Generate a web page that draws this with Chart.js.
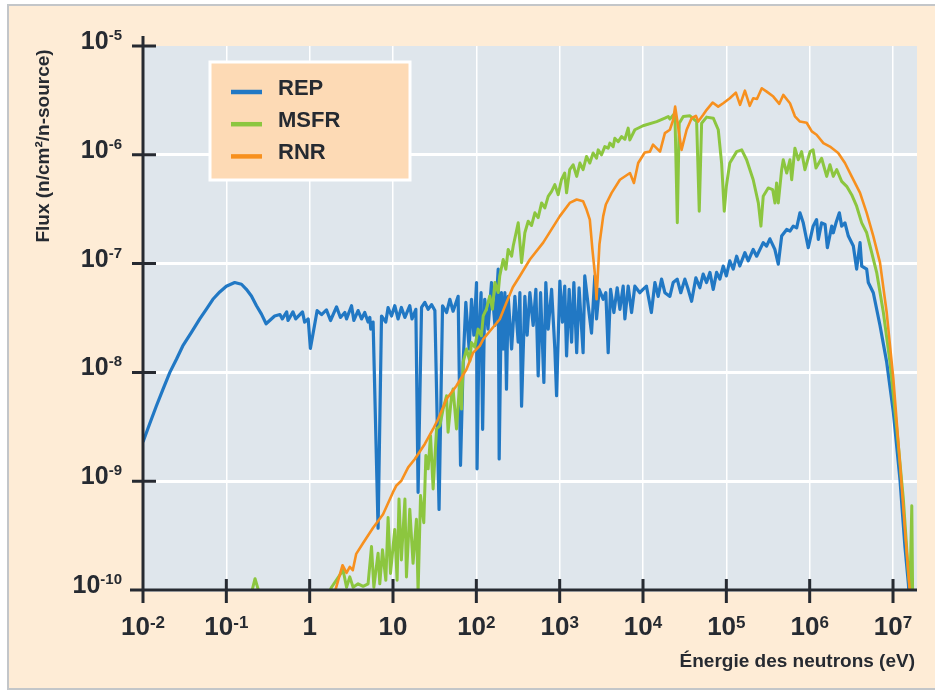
<!DOCTYPE html>
<html>
<head>
<meta charset="utf-8">
<script src="https://cdn.jsdelivr.net/npm/chart.js@4"></script>
<style>
  html, body { margin: 0; padding: 0; background: #ffffff; overflow: hidden; }
  #frame { position: absolute; left: 7px; top: 4px; width: 940px; height: 682px;
           border: 2px solid #c3c6c9; background: #feecd6; }
  #chart { position: absolute; left: 0; top: 0; }
</style>
</head>
<body>
<div id="frame"></div>
<canvas id="chart" width="935" height="690"></canvas>
<script>
// Neutron flux spectra, [energy (eV), flux (n/cm2/n-source)]
const repPoints = [
  [0.01, 2.3e-9], [0.012, 3.36e-9], [0.0145, 4.94e-9], [0.0174, 7.03e-9], [0.021, 1.0e-8],
  [0.0252, 1.32e-8], [0.030, 1.75e-8], [0.0381, 2.33e-8], [0.048, 3.1e-8], [0.0577, 3.81e-8],
  [0.069, 4.7e-8], [0.0834, 5.49e-8], [0.1, 6.2e-8], [0.126, 6.7e-8], [0.152, 6.46e-8],
  [0.174, 5.8e-8], [0.2, 5.04e-8], [0.23, 4.1e-8], [0.264, 3.43e-8], [0.30, 2.8e-8], [0.38, 3.3e-8],
  [0.44, 3.4e-8], [0.47, 3.1e-8], [0.53, 3.6e-8], [0.55, 3.0e-8], [0.63, 3.6e-8], [0.68, 3.1e-8],
  [0.82, 3.6e-8], [0.87, 2.9e-8], [0.96, 3.1e-8], [1.02, 1.66e-8], [1.23, 3.7e-8], [1.39, 3.4e-8],
  [1.59, 3.75e-8], [1.78, 3.0e-8], [2.1, 4.0e-8], [2.34, 3.2e-8], [2.64, 3.55e-8], [2.77, 3.1e-8],
  [3.18, 4.1e-8], [3.39, 3.0e-8], [3.81, 3.7e-8], [4.19, 3.1e-8], [4.58, 3.55e-8], [5.02, 2.9e-8],
  [5.27, 3.2e-8], [5.41, 2.5e-8], [5.77, 2.9e-8], [6.62, 3.7e-10], [7.28, 3.3e-8], [8.19, 2.9e-8],
  [8.73, 3.95e-8], [9.6, 3.3e-8], [10.5, 4.1e-8], [11.5, 3.1e-8], [12.6, 3.95e-8], [13.9, 3.2e-8],
  [15.9, 4.1e-8], [16.9, 3.1e-8], [18.8, 3.8e-8], [20.0, 7.9e-10], [22, 3.95e-8], [24.1, 4.4e-8],
  [26.4, 3.8e-8], [29, 4.2e-8], [31.8, 3.7e-8], [35.7, 5.5e-10], [39.3, 4.1e-8], [43.9, 3.55e-8],
  [48.1, 4.7e-8], [52.6, 3.65e-8], [60.5, 5.0e-8], [64.6, 1.4e-9], [69.5, 1.24e-8], [74.8, 4.4e-8],
  [82, 1.64e-8], [87.5, 4.7e-8], [93.3, 2.2e-8], [100.5, 6.7e-8], [102, 1.3e-9], [108, 2.5e-8],
  [114, 5.4e-8], [119, 3.0e-9], [126, 4.7e-8], [138, 2.5e-8], [152, 6.7e-8], [167, 2.7e-8],
  [183, 8.9e-8], [188, 1.6e-9], [200, 5.4e-8], [210, 1.64e-8], [220, 5.4e-8], [230, 7.0e-9],
  [241, 5.0e-8], [265, 1.64e-8], [290, 5.0e-8], [318, 1.9e-8], [333, 5.4e-8], [349, 4.9e-9],
  [382, 5.0e-8], [407, 2.2e-8], [439, 5.4e-8], [481, 2.7e-8], [518, 5.8e-8], [552, 9.3e-9],
  [590, 5.4e-8], [646, 8.1e-9], [682, 6.7e-8], [728, 2.5e-8], [800, 5.8e-8], [875, 1.64e-8],
  [918, 6.1e-9], [1005, 6.9e-8], [1080, 2.9e-8], [1150, 6.2e-8], [1210, 1.42e-8], [1300, 5.8e-8],
  [1390, 1.9e-8], [1480, 6.7e-8], [1600, 1.52e-8], [1710, 6.0e-8], [1910, 1.52e-8], [2000, 7.7e-8],
  [2200, 4.1e-8], [2410, 2.3e-8], [2640, 7.7e-8], [2770, 3.1e-8], [2980, 5.8e-8], [3330, 4.7e-8],
  [3580, 5.4e-8], [3820, 1.52e-8], [4080, 5.8e-8], [4470, 3.55e-8], [4900, 6.0e-8], [5280, 3.8e-8],
  [5780, 6.2e-8], [6060, 3.1e-8], [6640, 6.2e-8], [7290, 3.55e-8], [7980, 6.2e-8], [9160, 5.4e-8],
  [1.0e4, 5.8e-8], [1.1e4, 6.2e-8], [1.26e4, 3.55e-8], [1.39e4, 6.7e-8], [1.52e4, 5.0e-8],
  [1.67e4, 7.2e-8], [1.83e4, 5.4e-8], [2.1e4, 5.0e-8], [2.3e4, 6.7e-8], [2.57e4, 7.2e-8],
  [2.84e4, 5.4e-8], [3.18e4, 7.2e-8], [3.48e4, 5.8e-8], [3.83e4, 4.5e-8], [4.31e4, 7.4e-8],
  [4.81e4, 6.0e-8], [5.27e4, 8.0e-8], [5.79e4, 6.7e-8], [6.35e4, 8.3e-8], [6.96e4, 5.8e-8],
  [7.64e4, 8.3e-8], [8.36e4, 7.2e-8], [9.17e4, 9.5e-8], [1.0e5, 7.7e-8], [1.1e5, 1.06e-7],
  [1.21e5, 8.9e-8], [1.33e5, 1.17e-7], [1.45e5, 9.5e-8], [1.67e5, 1.26e-7], [1.83e5, 1.06e-7],
  [2.1e5, 1.35e-7], [2.31e5, 1.17e-7], [2.77e5, 1.56e-7], [3.04e5, 1.45e-7], [3.33e5, 1.69e-7],
  [3.82e5, 1.35e-7], [4.2e5, 9.9e-8], [4.61e5, 1.79e-7], [5.3e5, 2.06e-7], [5.8e5, 1.99e-7],
  [6.35e5, 2.21e-7], [6.98e5, 2.13e-7], [7.64e5, 2.93e-7], [8.37e5, 2.37e-7], [9.62e5, 1.4e-7],
  [1.1e6, 2.21e-7], [1.21e6, 2.54e-7], [1.27e6, 1.67e-7], [1.39e6, 2.37e-7], [1.53e6, 2.29e-7],
  [1.63e6, 1.4e-7], [1.84e6, 2.21e-7], [1.92e6, 1.92e-7], [2.07e6, 2.37e-7], [2.27e6, 2.93e-7],
  [2.42e6, 2.21e-7], [2.65e6, 2.37e-7], [2.91e6, 1.79e-7], [3.34e6, 1.45e-7], [3.66e6, 8.9e-8],
  [4.02e6, 1.56e-7], [4.21e6, 9.5e-8], [4.83e6, 8.9e-8], [5.05e6, 6.7e-8], [5.8e6, 5.4e-8],
  [6.98e6, 2.7e-8], [8.4e6, 1.24e-8], [1.01e7, 4.3e-9], [1.21e7, 1.05e-9], [1.39e7, 2.5e-10],
  [1.53e7, 1.14e-10], [1.56e7, 9e-11]
];

const msfrPoints = [
  [0.19, 8e-11], [0.221, 1.27e-10], [0.264, 8e-11], [1.65, 9e-11],
  [1.83, 1.06e-10], [2.52, 1.52e-10], [2.77, 1.06e-10], [3.03, 1.32e-10], [3.32, 1.06e-10],
  [3.81, 1.14e-10], [4.38, 1.08e-10], [5.02, 1.14e-10], [5.52, 2.51e-10], [5.89, 1.06e-10],
  [6.62, 2.18e-10], [6.94, 1.14e-10], [7.48, 2.34e-10], [8.2, 1.23e-10], [8.73, 4.63e-10],
  [9.33, 1.42e-10], [10.5, 3.6e-10], [11.2, 1.23e-10], [11.8, 6.86e-10], [12.6, 1.89e-10],
  [13.9, 6.86e-10], [14.5, 1.32e-10], [15.9, 5.53e-10], [17.4, 1.76e-10], [19.1, 4.46e-10],
  [20.0, 9.5e-11], [21.4, 7.37e-10], [23.4, 4.16e-10], [24.8, 1.72e-9], [26.4, 1.3e-9],
  [28.2, 2.62e-9], [30.3, 8.5e-10], [33.3, 3.02e-9], [36.5, 3.24e-9], [39.9, 4.6e-9],
  [43.9, 6.1e-9], [45.8, 2.82e-9], [50.4, 6.1e-9], [52.6, 7.03e-9], [57.8, 3.02e-9],
  [63.2, 8.1e-9], [66.4, 4.6e-9], [69.5, 1.24e-8], [76.2, 1.64e-8], [83.6, 1.27e-8],
  [87.5, 1.88e-8], [95.9, 1.71e-8], [105, 2.5e-8], [115, 2.17e-8], [121, 3.3e-8],
  [132, 3.81e-8], [145, 5.04e-8], [156, 3.81e-8], [167, 6.7e-8], [183, 5.42e-8],
  [191, 7.7e-8], [210, 1.09e-7], [226, 8.87e-8], [241, 1.35e-7], [265, 1.17e-7],
  [277, 1.45e-7], [318, 2.37e-7], [349, 1.02e-7], [382, 1.92e-7], [419, 2.45e-7],
  [460, 2.24e-7], [504, 2.93e-7], [552, 2.65e-7], [607, 3.61e-7], [664, 3.25e-7],
  [728, 4.15e-7], [800, 4.61e-7], [875, 5.32e-7], [960, 4.3e-7], [1050, 5.9e-7],
  [1150, 6.8e-7], [1210, 4.47e-7], [1320, 7.3e-7], [1450, 8.1e-7], [1600, 6.33e-7],
  [1750, 8.4e-7], [1910, 7.3e-7], [2100, 9.65e-7], [2300, 8.4e-7], [2520, 1.04e-6],
  [2770, 9.3e-7], [2900, 1.11e-6], [3180, 1.0e-6], [3480, 1.19e-6], [3820, 1.15e-6],
  [4000, 1.28e-6], [4390, 1.19e-6], [4590, 1.42e-6], [5040, 1.32e-6], [5530, 1.47e-6],
  [6060, 1.39e-6], [6640, 1.76e-6], [6950, 1.37e-6], [7980, 1.7e-6], [1.0e4, 1.85e-6],
  [1.46e4, 2.02e-6], [1.83e4, 2.17e-6], [2.01e4, 2.25e-6], [2.1e4, 2.13e-6], [2.31e4, 2.33e-6],
  [2.42e4, 2.23e-6], [2.58e4, 2.37e-7], [2.72e4, 1.95e-6], [3.04e4, 2.25e-6], [3.66e4, 2.28e-6],
  [4.4e4, 2.02e-6], [4.73e4, 3.03e-7], [5.05e4, 1.95e-6], [5.8e4, 2.22e-6], [6.97e4, 2.17e-6],
  [8.0e4, 1.7e-6], [8.77e4, 8.4e-7], [9.44e4, 3.03e-7], [1.0e5, 5.13e-7], [1.1e5, 8.4e-7],
  [1.33e5, 1.07e-6], [1.53e5, 1.11e-6], [1.75e5, 9.0e-7], [2.1e5, 5.9e-7], [2.42e5, 3.61e-7],
  [2.6e5, 2.21e-7], [2.77e5, 4.15e-7], [3.18e5, 4.96e-7], [3.6e5, 4.78e-7], [3.83e5, 3.61e-7],
  [4.01e5, 5.51e-7], [4.2e5, 3.61e-7], [4.61e5, 7.3e-7], [4.82e5, 9.0e-7], [5.3e5, 6.8e-7],
  [5.8e5, 9.0e-7], [6.08e5, 5.9e-7], [6.65e5, 1.15e-6], [7.3e5, 9.0e-7], [8.0e5, 1.07e-6],
  [8.77e5, 7.3e-7], [1.01e6, 1.07e-6], [1.1e6, 1.11e-6], [1.19e6, 7.55e-7], [1.39e6, 9.3e-7],
  [1.6e6, 6.33e-7], [1.75e6, 8.1e-7], [1.92e6, 6.33e-7], [2.11e6, 7.3e-7], [2.42e6, 5.7e-7],
  [2.78e6, 5.13e-7], [3.19e6, 4.3e-7], [3.66e6, 3.37e-7], [4.21e6, 2.37e-7], [4.83e6, 1.92e-7],
  [5.55e6, 1.26e-7], [6.37e6, 8.27e-8], [7.66e6, 3.55e-8], [9.2e6, 1.24e-8], [1.11e7, 3.02e-9],
  [1.33e7, 6.86e-10], [1.53e7, 1.42e-10], [1.6e7, 1.06e-10], [1.68e7, 5.94e-10], [1.72e7, 9e-11]
];

const rnrPoints = [
  [1.9, 9e-11], [2.06, 1.03e-10], [2.48, 1.69e-10], [2.77, 1.44e-10], [3.03, 1.63e-10],
  [3.29, 1.52e-10], [3.62, 2.15e-10], [4.38, 2.7e-10], [5.77, 3.73e-10], [7.6, 4.97e-10],
  [10.0, 7.93e-10], [11.0, 9.14e-10], [12.6, 1.01e-9], [15.2, 1.34e-9], [18.3, 1.6e-9],
  [24.1, 2.2e-9], [30.3, 3.02e-9], [34.8, 3.73e-9], [43.9, 5.69e-9], [57.8, 7.54e-9],
  [76.2, 1.07e-8], [91.6, 1.52e-8], [110, 1.75e-8], [121, 2.02e-8], [145, 2.39e-8],
  [191, 3.08e-8], [230, 4.39e-8], [274, 6.06e-8], [333, 7.7e-8], [439, 1.09e-7],
  [634, 1.56e-7], [1005, 2.73e-7], [1320, 3.61e-7], [1600, 3.88e-7], [1910, 3.74e-7],
  [2100, 3.14e-7], [2300, 2.54e-7], [2470, 1.35e-7], [2650, 7.98e-8], [2770, 4.7e-8],
  [3000, 1.5e-7], [3330, 2.73e-7], [3580, 3.49e-7], [4200, 4.47e-7], [5280, 5.9e-7],
  [6970, 6.8e-7], [7780, 5.51e-7], [8750, 8.4e-7], [1.05e4, 1.05e-6], [1.21e4, 1.07e-6],
  [1.32e4, 1.24e-6], [1.6e4, 1.07e-6], [1.83e4, 1.58e-6], [2.1e4, 1.7e-6], [2.3e4, 2.09e-6],
  [2.43e4, 2.77e-6], [2.57e4, 2.09e-6], [2.9e4, 1.11e-6], [3.34e4, 1.7e-6], [3.83e4, 2.17e-6],
  [4.31e4, 2.28e-6], [4.6e4, 2.02e-6], [5.28e4, 2.33e-6], [5.8e4, 2.59e-6], [6.84e4, 3.02e-6],
  [7.98e4, 2.77e-6], [9.17e4, 2.98e-6], [1.1e5, 3.31e-6], [1.3e5, 3.73e-6], [1.46e5, 2.88e-6],
  [1.67e5, 3.89e-6], [1.91e5, 2.82e-6], [2.1e5, 3.31e-6], [2.33e5, 3.26e-6], [2.66e5, 4.09e-6],
  [3.05e5, 3.81e-6], [3.66e5, 3.43e-6], [4.32e5, 2.94e-6], [4.82e5, 3.55e-6], [5.8e5, 2.98e-6],
  [6.65e5, 2.26e-6], [7.64e5, 2.02e-6], [9.2e5, 1.97e-6], [1.06e6, 1.64e-6], [1.21e6, 1.53e-6],
  [1.46e6, 1.28e-6], [1.75e6, 1.19e-6], [2.2e6, 1.04e-6], [2.65e6, 8.4e-7], [3.19e6, 6.33e-7],
  [4.02e6, 4.47e-7], [4.83e6, 2.93e-7], [5.8e6, 1.79e-7], [6.98e6, 1.02e-7], [8.4e6, 3.55e-8],
  [1.01e7, 8.68e-9], [1.21e7, 1.49e-9], [1.39e7, 3.6e-10], [1.53e7, 1.42e-10], [1.6e7, 9e-11]
];

const seriesNames = ['REP', 'MSFR', 'RNR'];
const seriesColors = ['#2178c4', '#8cc63f', '#f7901e'];

const xTickValues = [1e-2, 1e-1, 1, 10, 1e2, 1e3, 1e4, 1e5, 1e6, 1e7];
const xTickLabels = [['10', '-2'], ['10', '-1'], ['1', ''], ['10', ''], ['10', '2'], ['10', '3'],
                     ['10', '4'], ['10', '5'], ['10', '6'], ['10', '7']];
const yTickValues = [1e-10, 1e-9, 1e-8, 1e-7, 1e-6, 1e-5];
const yTickLabels = [['10', '-10'], ['10', '-9'], ['10', '-8'], ['10', '-7'], ['10', '-6'], ['10', '-5']];

const xTitle = 'Énergie des neutrons (eV)';
const yTitle = 'Flux (n/cm²/n-source)';

const ink = '#262a31';
const fontFamily = '"Liberation Sans", Arial, sans-serif';

const toXY = pts => pts.map(p => ({ x: p[0], y: p[1] }));

// background panel, axes, tick labels, titles and legend
const decorations = {
  id: 'decorations',
  beforeDraw(chart) {
    const { ctx, chartArea: a } = chart;
    ctx.save();
    ctx.fillStyle = '#dfe6ec';
    ctx.fillRect(a.left, a.top, a.right - a.left, a.bottom - a.top);
    ctx.restore();
  },
  afterDraw(chart) {
    const { ctx, chartArea: a, scales: { x, y } } = chart;
    ctx.save();

    // axis lines with crossing ticks
    ctx.strokeStyle = ink;
    ctx.lineWidth = 3;
    ctx.beginPath();
    ctx.moveTo(a.left, a.top - 10);
    ctx.lineTo(a.left, a.bottom + 8);
    ctx.moveTo(a.left - 13, a.bottom);
    ctx.lineTo(a.right, a.bottom);
    yTickValues.forEach(v => {
      const py = y.getPixelForValue(v);
      ctx.moveTo(a.left - 11, py);
      ctx.lineTo(a.left + 13, py);
    });
    xTickValues.forEach(v => {
      const px = x.getPixelForValue(v);
      ctx.moveTo(px, a.bottom - 11);
      ctx.lineTo(px, a.bottom + 13);
    });
    ctx.stroke();

    ctx.fillStyle = ink;
    ctx.textBaseline = 'alphabetic';

    // y tick labels, right aligned
    const yBase = 'bold 25px ' + fontFamily;
    const ySup = 'bold 15px ' + fontFamily;
    yTickValues.forEach((v, i) => {
      const py = y.getPixelForValue(v);
      const [b, s] = yTickLabels[i];
      const right = a.left - 21;
      ctx.font = ySup;
      const sw = ctx.measureText(s).width;
      ctx.textAlign = 'left';
      ctx.fillText(s, right - sw, py - 6);
      ctx.font = yBase;
      ctx.textAlign = 'right';
      ctx.fillText(b, right - sw, py + 3);
    });

    // x tick labels, centred on the tick
    const xBase = 'bold 26px ' + fontFamily;
    const xSup = 'bold 17px ' + fontFamily;
    xTickValues.forEach((v, i) => {
      const px = x.getPixelForValue(v);
      const [b, s] = xTickLabels[i];
      ctx.font = xBase;
      const bw = ctx.measureText(b).width;
      ctx.font = xSup;
      const sw = s ? ctx.measureText(s).width : 0;
      const left = px - (bw + sw) / 2;
      ctx.textAlign = 'left';
      ctx.font = xBase;
      ctx.fillText(b, left, a.bottom + 45);
      if (s) {
        ctx.font = xSup;
        ctx.fillText(s, left + bw, a.bottom + 38);
      }
    });

    // axis titles
    ctx.font = 'bold 19px ' + fontFamily;
    ctx.textAlign = 'right';
    ctx.fillText(xTitle, 915, 667);

    ctx.save();
    ctx.translate(44, 146);
    ctx.rotate(-Math.PI / 2);
    ctx.font = 'bold 19px ' + fontFamily;
    ctx.textAlign = 'center';
    ctx.textBaseline = 'middle';
    ctx.fillText(yTitle, 0, 0);
    ctx.restore();

    // legend box
    ctx.fillStyle = '#fddab5';
    ctx.fillRect(210, 62, 200, 118);
    ctx.strokeStyle = '#ffffff';
    ctx.lineWidth = 3;
    ctx.strokeRect(210, 62, 200, 118);
    ctx.font = 'bold 22px ' + fontFamily;
    ctx.textAlign = 'left';
    chart.data.datasets.forEach((ds, i) => {
      const ly = 92 + i * 32.2;
      ctx.strokeStyle = ds.borderColor;
      ctx.lineWidth = 4.5;
      ctx.beginPath();
      ctx.moveTo(231, ly);
      ctx.lineTo(262, ly);
      ctx.stroke();
      ctx.fillStyle = ink;
      ctx.fillText(ds.label, 278, ly + 3);
    });

    ctx.restore();
  }
};

new Chart(document.getElementById('chart'), {
  type: 'line',
  data: {
    datasets: [
      { label: seriesNames[0], data: toXY(repPoints), borderColor: seriesColors[0], borderWidth: 3.2, order: 3 },
      { label: seriesNames[1], data: toXY(msfrPoints), borderColor: seriesColors[1], borderWidth: 3, order: 2 },
      { label: seriesNames[2], data: toXY(rnrPoints), borderColor: seriesColors[2], borderWidth: 2.6, order: 1 }
    ]
  },
  options: {
    responsive: false,
    animation: false,
    devicePixelRatio: 1,
    layout: { padding: { left: 143, right: 18, top: 46, bottom: 100 } },
    elements: {
      point: { radius: 0 },
      line: { tension: 0, fill: false, borderJoinStyle: 'round' }
    },
    plugins: { legend: { display: false }, tooltip: { enabled: false } },
    scales: {
      x: {
        type: 'logarithmic',
        min: 0.01,
        max: 1.94e7,
        afterBuildTicks: scale => { scale.ticks = xTickValues.map(v => ({ value: v })); },
        ticks: { display: false },
        border: { display: false },
        grid: { color: '#ffffff', lineWidth: 1.5, drawTicks: false }
      },
      y: {
        type: 'logarithmic',
        min: 1e-10,
        max: 1e-5,
        afterBuildTicks: scale => { scale.ticks = yTickValues.map(v => ({ value: v })); },
        ticks: { display: false },
        border: { display: false },
        grid: {
          color: c => (c.tick && c.tick.value === 1e-5) ? 'rgba(0,0,0,0)' : '#ffffff',
          lineWidth: 3,
          drawTicks: false
        }
      }
    }
  },
  plugins: [decorations]
});
</script>
</body>
</html>
